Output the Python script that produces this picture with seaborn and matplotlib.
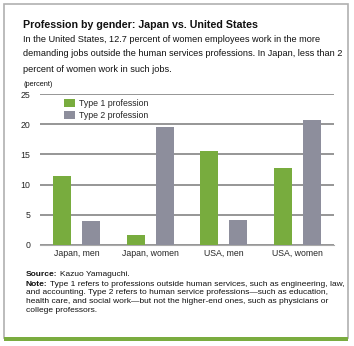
import matplotlib
matplotlib.use("Agg")
import matplotlib.pyplot as plt
import seaborn as sns
import pandas as pd
from matplotlib.patches import Rectangle

categories = ["Japan, men", "Japan, women", "USA, men", "USA, women"]
type1 = [11.5, 1.7, 15.5, 12.7]
type2 = [4.0, 19.5, 4.1, 20.7]
series_names = ["Type 1 profession", "Type 2 profession"]
yticks = [0, 5, 10, 15, 20, 25]

df = pd.DataFrame({
    "category": categories * 2,
    "value": type1 + type2,
    "series": [series_names[0]] * 4 + [series_names[1]] * 4,
})

sns.set_theme(style="white")
plt.rcParams["font.family"] = ["Liberation Sans", "DejaVu Sans"]

W, H = 354, 346
fig = plt.figure(figsize=(3.54, 3.46), dpi=100)
fig.patch.set_facecolor("white")

fig.add_artist(Rectangle((4/W, 1-338/H), 344/W, 334/H, transform=fig.transFigure,
                         fill=False, edgecolor="#b0b0b0", lw=1.2))
fig.add_artist(Rectangle((4/W, 1-341/H), 344/W, 4/H, transform=fig.transFigure,
                         facecolor="#7aac3f", edgecolor="none"))

ax = fig.add_axes([40/W, 1-245/H, 294/W, 151/H])
palette = {series_names[0]: "#78ac3e", series_names[1]: "#8d8e9c"}
sns.barplot(data=df, x="category", y="value", hue="series", order=categories,
            hue_order=series_names, palette=palette, width=0.795, gap=0.38,
            saturation=1, linewidth=0, ax=ax, zorder=3)
ax.set_xlim(-0.5, 3.5)
ax.set_ylim(0, 25)
ax.set_yticks(yticks)
ax.set_yticklabels([str(t) for t in yticks], fontsize=6.3)
ax.yaxis.grid(True, color="#8e8e8e", lw=1.3)
ax.set_axisbelow(True)
for s in ["top", "right", "left"]:
    ax.spines[s].set_visible(False)
ax.spines["bottom"].set_color("#aaaaaa")
ax.spines["bottom"].set_linewidth(0.8)
ax.tick_params(axis="y", length=0, pad=7)
ax.set_xticks(range(4))
ax.set_xticklabels(categories, fontsize=6.3)
ax.tick_params(axis="x", length=0, pad=3)
ax.set_xticks([-0.5, 0.5, 1.5, 2.5, 3.5], minor=True)
ax.tick_params(axis="x", which="minor", direction="in", length=3, color="#aaaaaa", width=0.8)
ax.set_xlabel("")
ax.set_ylabel("")
ax.legend(loc="upper left", bbox_to_anchor=(0.07, 0.99), frameon=False, fontsize=6.3,
          handlelength=1.2, handleheight=1.0, handletextpad=0.5, labelspacing=0.35,
          borderaxespad=0)

fig.canvas.draw()
renderer = fig.canvas.get_renderer()


def fit_text(x, y, s, width, size, **kw):
    t = fig.text(x / W, 1 - y / H, s, fontsize=size, va="center", ha="left",
                 color="#111111", **kw)
    w = t.get_window_extent(renderer).width
    t.set_fontsize(size * width / w)
    return t


fit_text(23, 25, "Profession by gender: Japan vs. United States", 236, 9, fontweight="bold")
body = ["In the United States, 12.7 percent of women employees work in the more",
        "demanding jobs outside the human services professions. In Japan, less than 2",
        "percent of women work in such jobs."]
bt = fit_text(23, 54, body[1], 318, 7.5)
bs = bt.get_fontsize()
fig.text(23/W, 1-39.5/H, body[0], fontsize=bs, va="center", ha="left", color="#111111")
fig.text(23/W, 1-69/H, body[2], fontsize=bs, va="center", ha="left", color="#111111")
fig.text(23/W, 1-84.5/H, "(percent)", fontsize=5.3, va="center", ha="left", color="#111111")

# Note / source block
ns = 6.0
n1 = fig.text(26/W, 1-284/H, "Note:", fontsize=ns, fontweight="bold", va="center", ha="left",
              color="#111111")
note1 = "Type 1 refers to professions outside human services, such as engineering, law,"
t = fig.text(30/W, 1-284/H, note1, fontsize=ns, va="center", ha="left", color="#111111")
nw = n1.get_window_extent(renderer).width
w = t.get_window_extent(renderer).width
target = 318
scale = (target - 2) / (nw + w)
ns2 = ns * scale
t.set_fontsize(ns2)
n1.set_fontsize(ns2)
nw2 = n1.get_window_extent(renderer).width
t.set_x((26 + nw2 + 2)/W)

s1 = fig.text(26/W, 1-275/H, "Source:", fontsize=ns2, fontweight="bold", va="center", ha="left",
              color="#111111")
sw = s1.get_window_extent(renderer).width
fig.text((26 + sw + 2)/W, 1-275/H, "Kazuo Yamaguchi.", fontsize=ns2, va="center", ha="left",
         color="#111111")
rest = ["and accounting. Type 2 refers to human service professions\u2014such as education,",
        "health care, and social work\u2014but not the higher-end ones, such as physicians or",
        "college professors."]
for i, line in enumerate(rest):
    fig.text(26/W, 1-(293 + 8.8*i)/H, line, fontsize=ns2, va="center", ha="left", color="#111111")

fig.savefig("out.png", dpi=100)
